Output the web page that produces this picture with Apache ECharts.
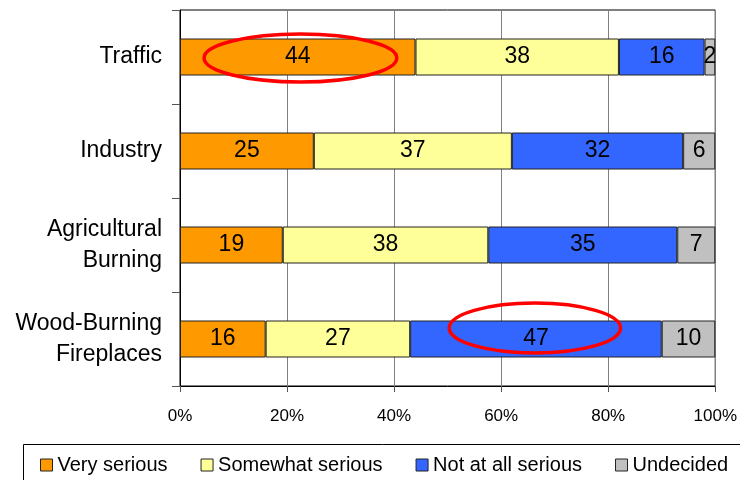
<!DOCTYPE html>
<html>
<head>
<meta charset="utf-8">
<script src="https://cdn.jsdelivr.net/npm/echarts@6/dist/echarts.min.js"></script>
<style>
  html, body { margin: 0; padding: 0; background: #fff; }
  #main { width: 740px; height: 480px; }
</style>
</head>
<body>
<div id="main"></div>
<script>
// data (percent of respondents)
var categories = ['Traffic', 'Industry', 'Agricultural\nBurning', 'Wood-Burning\nFireplaces'];
var verySerious = [44, 25, 19.2, 16];
var somewhatSerious = [38, 37, 38.4, 27];
var notAtAllSerious = [16, 32, 35.3, 47];
var undecided = [2, 6, 7.1, 10];
var seriesNames = ['Very serious', 'Somewhat serious', 'Not at all serious', 'Undecided'];
var colors = ['#ff9900', '#ffff99', '#3366ff', '#c0c0c0'];

// red rings: [category index, centre value, half width (value), ry px, dy px]
var highlights = [[0, 22.5, 18, 24, 1], [3, 66.3, 16, 25, -11]];

var font = 'Liberation Sans, Arial, sans-serif';
var chart = echarts.init(document.getElementById('main'));

function makeSeries(name, data, color) {
    return {
        name: name,
        type: 'bar',
        stack: 'all',
        barWidth: 37,
        data: data,
        itemStyle: { color: color, borderColor: '#222', borderWidth: 1 },
        label: {
            show: true,
            position: 'inside',
            color: '#000',
            fontFamily: font,
            fontSize: 23,
            formatter: function (p) { return Math.round(p.value); }
        },
        emphasis: { disabled: true }
    };
}

var option = {
    animation: false,
    color: colors,
    grid: {
        left: 180, right: 24, top: 10, bottom: 94,
        show: true, borderColor: '#000', borderWidth: 1
    },
    legend: {
        left: 40,
        top: 455,
        padding: 0,
        itemWidth: 12,
        itemHeight: 12,
        itemGap: 33,
        icon: 'rect',
        itemStyle: { borderColor: '#222', borderWidth: 1 },
        textStyle: { fontFamily: font, fontSize: 20, color: '#000' },
        data: seriesNames
    },
    xAxis: {
        type: 'value',
        min: 0,
        max: 100,
        interval: 20,
        axisLine: { show: true, lineStyle: { color: '#000' } },
        axisTick: { show: true, length: 6, lineStyle: { color: '#555' } },
        splitLine: { show: true, lineStyle: { color: '#808080' } },
        axisLabel: {
            formatter: '{value}%',
            fontFamily: font,
            fontSize: 17,
            color: '#000',
            margin: 22
        }
    },
    yAxis: {
        type: 'category',
        inverse: true,
        data: categories,
        axisLine: { show: true, lineStyle: { color: '#000' } },
        axisTick: { show: true, length: 8, lineStyle: { color: '#555' } },
        axisLabel: {
            fontFamily: font,
            fontSize: 23,
            color: '#000',
            lineHeight: 31,
            margin: 18,
            align: 'right'
        }
    },
    series: [
        makeSeries(seriesNames[0], verySerious, colors[0]),
        makeSeries(seriesNames[1], somewhatSerious, colors[1]),
        makeSeries(seriesNames[2], notAtAllSerious, colors[2]),
        makeSeries(seriesNames[3], undecided, colors[3])
    ]
};

chart.setOption(option);

// legend frame and the red rings
var graphics = [{
    type: 'rect',
    shape: { x: 23.5, y: 444.5, width: 740, height: 60 },
    style: { fill: 'none', stroke: '#000', lineWidth: 1 },
    silent: true
}];
highlights.forEach(function (h) {
    var c = chart.convertToPixel({ gridIndex: 0 }, [h[1], h[0]]);
    var e = chart.convertToPixel({ gridIndex: 0 }, [h[1] + h[2], h[0]]);
    graphics.push({
        type: 'ellipse',
        shape: { cx: c[0], cy: c[1] + h[4], rx: e[0] - c[0], ry: h[3] },
        style: { fill: 'none', stroke: '#ff0000', lineWidth: 3.5 },
        z: 100,
        silent: true
    });
});
chart.setOption({ graphic: graphics });
</script>
</body>
</html>
